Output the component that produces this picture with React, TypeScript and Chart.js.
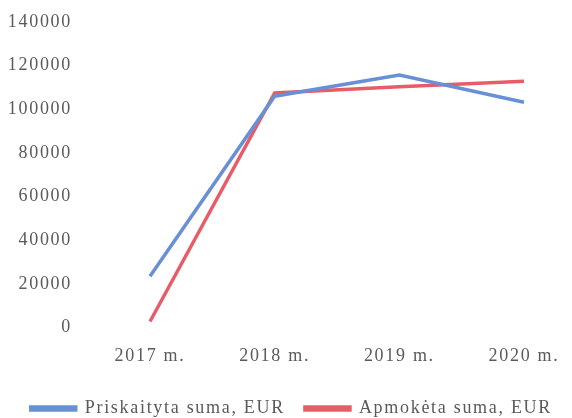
import React, { useEffect, useRef } from "react";
import { Chart, registerables } from "chart.js";

Chart.register(...registerables);

const categories = ["2017 m.", "2018 m.", "2019 m.", "2020 m."];
const priskaityta = [23500, 106000, 115700, 103200];
const apmoketa = [2800, 107500, 110300, 112900];
const seriesNames = ["Priskaityta suma, EUR", "Apmokėta suma, EUR"];

const BLUE = "rgb(104,144,212)";
const RED = "rgb(232,92,104)";
const TEXT = "#5a5a5a";
const FONT = { family: "'Liberation Serif', 'Times New Roman', serif", size: 18 };

const spacing = {
  id: "spacing",
  beforeInit(chart: any) { chart.ctx.letterSpacing = "1.7px"; },
  beforeLayout(chart: any) { chart.ctx.letterSpacing = "1.7px"; },
  beforeDraw(chart: any) { chart.ctx.letterSpacing = "1.7px"; },
};

export default function App() {
  const ref = useRef<HTMLCanvasElement>(null);
  useEffect(() => {
    const chart = new Chart(ref.current!, {
      type: "line",
      data: {
        labels: categories,
        datasets: [
          { label: seriesNames[0], data: priskaityta, borderColor: BLUE, backgroundColor: BLUE, borderWidth: 3.5, pointRadius: 0, tension: 0 },
          { label: seriesNames[1], data: apmoketa, borderColor: RED, backgroundColor: RED, borderWidth: 3.5, pointRadius: 0, tension: 0 },
        ],
      },
      options: {
        animation: false,
        responsive: false,
        layout: { padding: { top: 0, right: 0, left: 0, bottom: -9.6 } },
        plugins: {
          tooltip: { enabled: false },
          legend: {
            position: "bottom",
            align: "end",
            labels: { color: TEXT, font: FONT, boxWidth: 45, boxHeight: 3, padding: 20 },
          },
        },
        scales: {
          x: {
            offset: false,
            grid: { display: false, drawTicks: false },
            border: { display: false },
            ticks: { color: TEXT, font: FONT, padding: 18, maxRotation: 0, autoSkip: false },
            afterFit: (s: any) => { s.height = 52; s.paddingLeft = 0; s.paddingRight = 0; },
          },
          y: {
            min: 0,
            max: 140000,
            grid: { display: false, drawTicks: false },
            border: { display: false },
            ticks: { stepSize: 20000, color: TEXT, font: FONT, padding: 78, callback: (v: any) => String(v) },
            afterFit: (s: any) => { s.width = 150; s.paddingTop = 22; s.paddingBottom = 0; },
          },
          yr: {
            position: "right",
            display: true,
            grid: { display: false, drawTicks: false },
            border: { display: false },
            ticks: { display: false },
            afterFit: (s: any) => { s.width = 48; s.paddingTop = 0; s.paddingBottom = 0; },
          },
        },
      },
      plugins: [spacing],
    });
    return () => chart.destroy();
  }, []);
  return (
    <div style={{ position: "absolute", left: 0, top: 0, width: 572, height: 418, background: "#fff" }}>
      <canvas ref={ref} width={572} height={418} />
    </div>
  );
}
